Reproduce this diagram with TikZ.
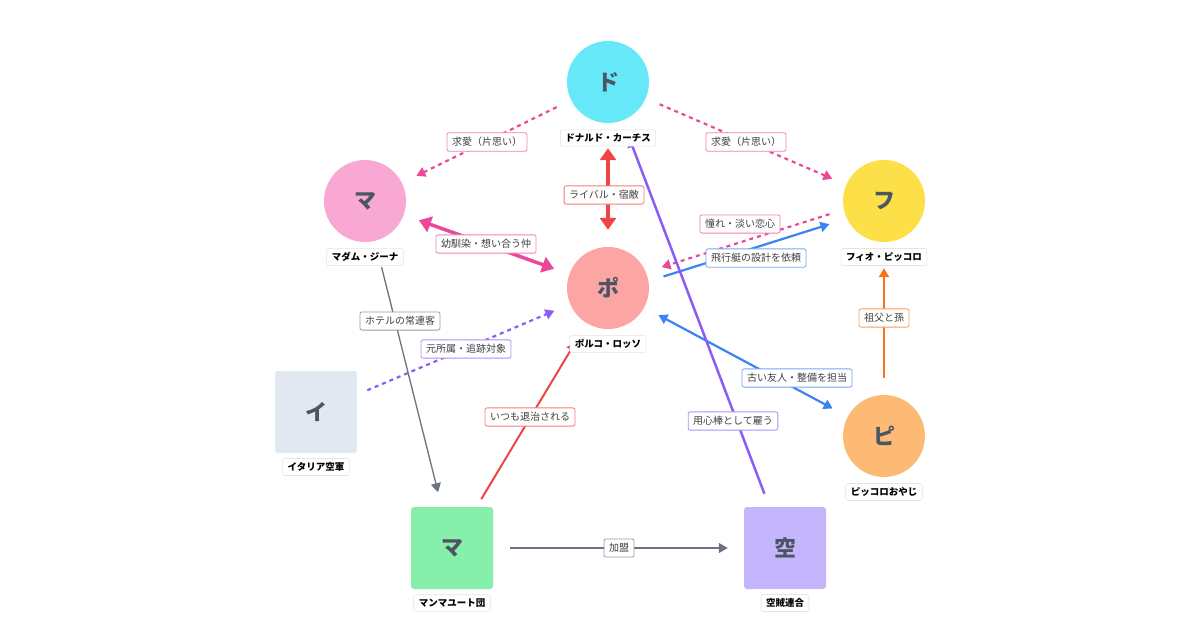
\documentclass[tikz,border=0pt]{standalone}
\usepackage{fontspec}
\setmainfont{Noto Sans CJK JP}
\usetikzlibrary{arrows.meta}
\definecolor{cD}{HTML}{67E8F9}\definecolor{cM}{HTML}{F9A8D4}\definecolor{cP}{HTML}{FCA5A5}
\definecolor{cF}{HTML}{FDE047}\definecolor{cPi}{HTML}{FDBA74}\definecolor{cI}{HTML}{E2E8F0}
\definecolor{cMM}{HTML}{86EFAC}\definecolor{cK}{HTML}{C4B5FD}
\definecolor{ePink}{HTML}{EC4899}\definecolor{eRed}{HTML}{EF4444}\definecolor{eBlue}{HTML}{3B82F6}
\definecolor{ePur}{HTML}{8B5CF6}\definecolor{eOr}{HTML}{F97316}\definecolor{eGray}{HTML}{6B7280}
\definecolor{txt}{HTML}{4B5563}
\begin{document}
\begin{tikzpicture}[x=1pt,y=-1pt,
 circ/.style={circle,fill=#1,minimum size=82pt,inner sep=0,text=txt,font=\fontsize{22}{22}\selectfont\bfseries},
 box/.style={rectangle,rounded corners=3pt,fill=#1,minimum size=82pt,inner sep=0,text=txt,font=\fontsize{22}{22}\selectfont\bfseries},
 nlab/.style={fill=white,draw=black!10,line width=0.6pt,rounded corners=2pt,inner xsep=5pt,inner ysep=4pt,font=\fontsize{9.5}{9.5}\selectfont\bfseries},
 lab/.style={fill=white,draw=#1!70,solid,line width=0.8pt,rounded corners=2pt,inner xsep=5pt,inner ysep=4.5pt,text=black!75,font=\fontsize{10}{10}\selectfont},
 gap/.style 2 args={shorten <=#1pt,shorten >=#2pt},
 dot/.style={line width=2.2pt,dash pattern=on 4pt off 4pt},
 tip/.style={-{Triangle[length=9pt,width=10pt]}},
 btip/.style={{Triangle[length=12pt,width=16pt]}-{Triangle[length=12pt,width=16pt]}},
]
\useasboundingbox (0,0) rectangle (1200,630);
\node[circ=cD] (d) at (608,82) {ド};
\node[circ=cM] (m) at (365,201) {マ};
\node[circ=cP] (p) at (608,288) {ポ};
\node[circ=cF] (f) at (884,201) {フ};
\node[circ=cPi] (pi) at (884,436) {ピ};
\node[box=cI] (i) at (316,412) {イ};
\node[box=cMM] (mm) at (452,548) {マ};
\node[box=cK] (k) at (785,548) {空};
% edges
\draw[ePink,dot,tip,gap={16}{16}] (d) -- (m);
\draw[ePink,dot,tip,gap={15}{15}] (d) -- (f);
\draw[eRed,line width=3.5pt,btip,gap={25}{17}] (d) -- (p);
\draw[ePink,line width=3.5pt,btip,gap={16}{16}] (m) -- (p);
\draw[ePink,dot,tip,gap={16}{15},transform canvas={yshift=4pt}] (f) -- (p);
\draw[eBlue,line width=2.2pt,tip,gap={17}{16},transform canvas={yshift=-6pt}] (p) -- (f);
\draw[eBlue,line width=2.2pt,{Triangle[length=9pt,width=10pt]}-{Triangle[length=9pt,width=10pt]},gap={16}{17}] (p) -- (pi);
\draw[eOr,line width=2.5pt,tip,gap={17}{26}] (pi) -- (f);
\draw[eGray,line width=1.3pt,tip,gap={27}{15}] (m) -- (mm);
\draw[ePur,dot,tip,gap={11}{17}] (i) -- (p);
\draw[eRed,line width=2pt,tip,gap={9}{22}] (mm) -- (p);
\draw[ePur,line width=2.5pt,tip,gap={14}{19}] (k) -- (d);
\draw[eGray,line width=1.3pt,tip,gap={17}{16}] (mm) -- (k);
% edge labels
\node[lab=ePink] (l1) at (487,142) {求愛（片思い）};
\node[lab=ePink] (l2) at (746,142) {求愛（片思い）};
\node[lab=eRed] (l3) at (604,195) {ライバル・宿敵};
\node[lab=ePink] (l4) at (486,244) {幼馴染・想い合う仲};
\node[lab=ePink] (l5) at (740,224) {憧れ・淡い恋心};
\node[lab=eBlue] (l6) at (756,258) {飛行艇の設計を依頼};
\node[lab=eBlue] (l7) at (797,378) {古い友人・整備を担当};
\node[lab=eOr] (l8) at (884,318) {祖父と孫};
\node[lab=eGray] (l9) at (400,321) {ホテルの常連客};
\node[lab=ePur] (l10) at (466,349) {元所属・追跡対象};
\node[lab=eRed] (l11) at (530,417) {いつも退治される};
\node[lab=ePur] (l12) at (733,421) {用心棒として雇う};
\node[lab=eGray] (l13) at (619,548) {加盟};
% names
\node[nlab] (nd) at (608,138) {ドナルド・カーチス};
\node[nlab] (nm) at (365,257) {マダム・ジーナ};
\node[nlab] (np) at (608,344) {ポルコ・ロッソ};
\node[nlab] (nf) at (884,257) {フィオ・ピッコロ};
\node[nlab] (npi) at (884,492) {ピッコロおやじ};
\node[nlab] (ni) at (316,467) {イタリア空軍};
\node[nlab] (nmm) at (452,603) {マンマユート団};
\node[nlab] (nk) at (785,603) {空賊連合};
\end{tikzpicture}
\end{document}
